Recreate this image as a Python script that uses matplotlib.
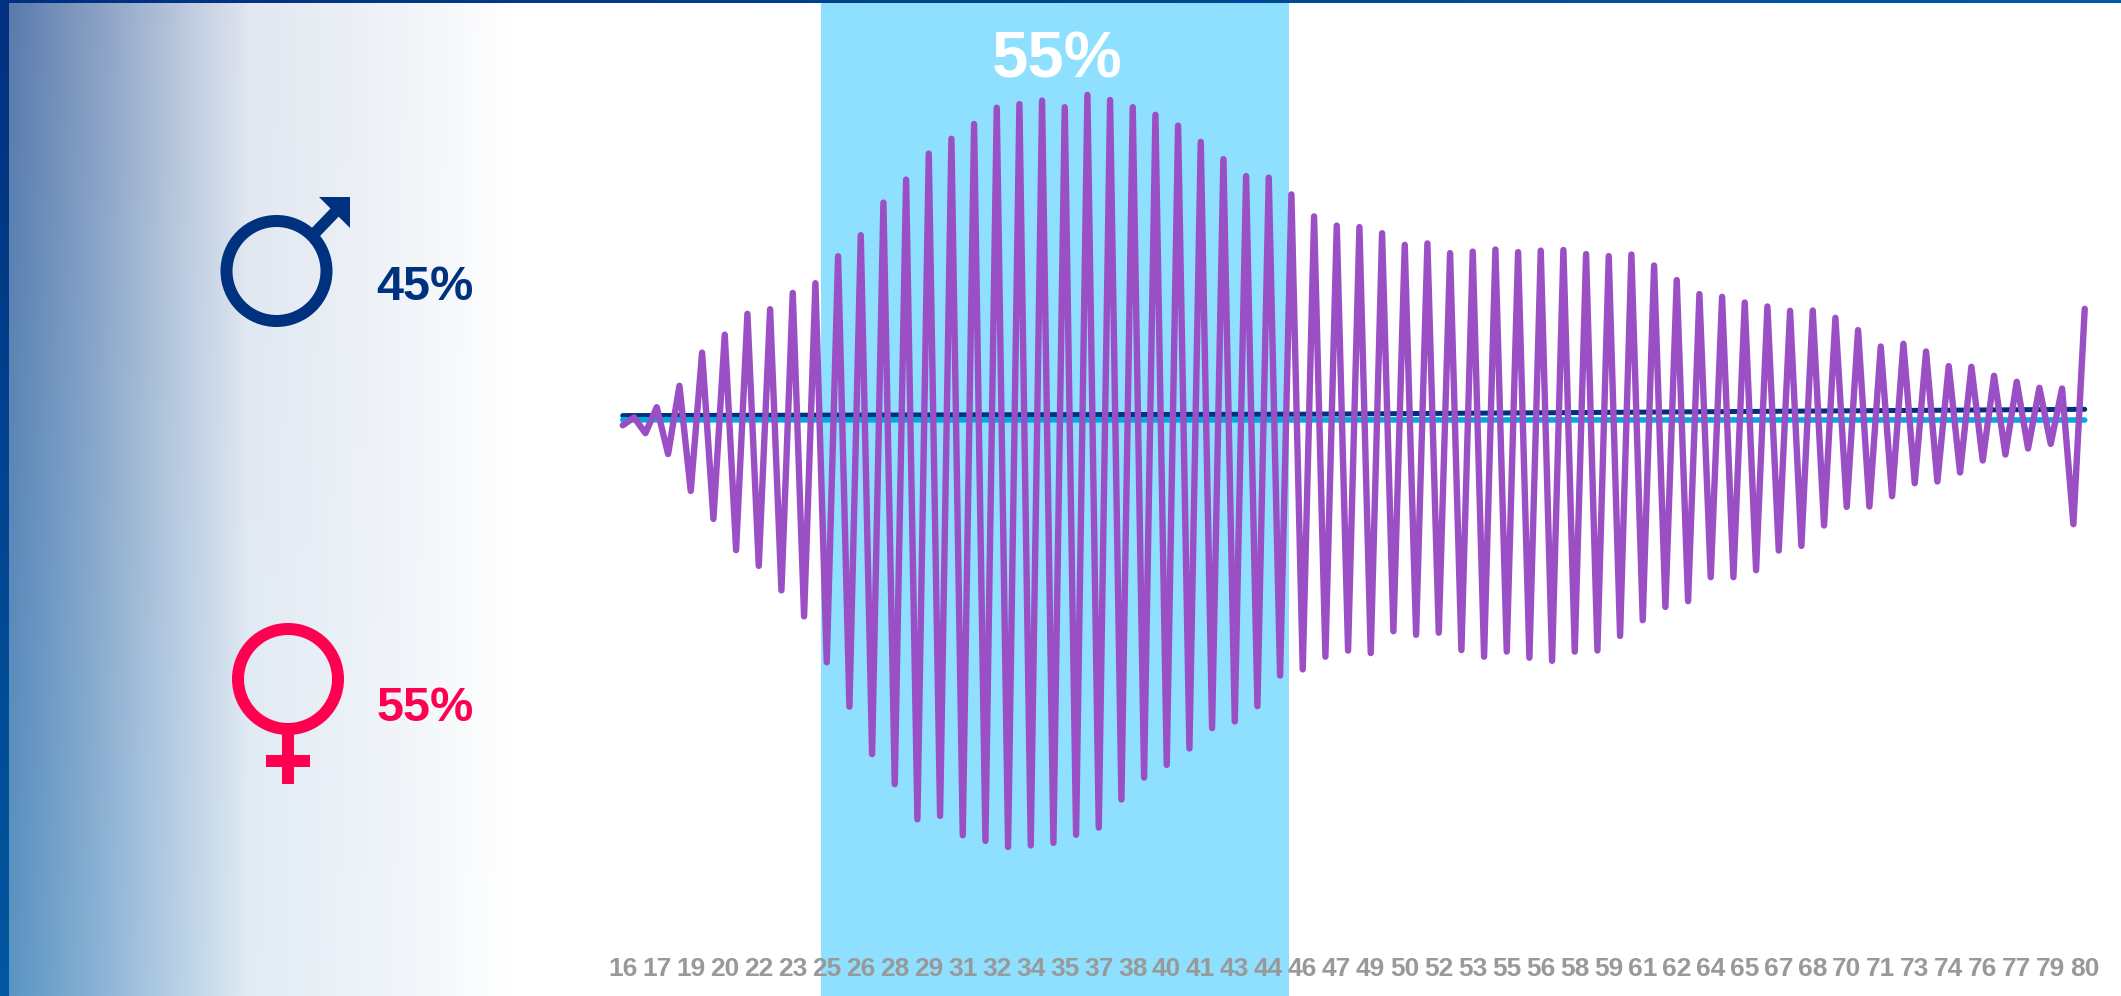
import numpy as np
import matplotlib
matplotlib.use('Agg')
import matplotlib.pyplot as plt
from matplotlib.patches import Circle, Polygon, Rectangle

plt.rcParams['font.family'] = ['Liberation Sans', 'DejaVu Sans']

# tick labels, one every third point
age_labels = ['16', '17', '19', '20', '22', '23', '25', '26', '28', '29', '31',
              '32', '34', '35', '37', '38', '40', '41', '43', '44', '46', '47',
              '49', '50', '52', '53', '55', '56', '58', '59', '61', '62', '64',
              '65', '67', '68', '70', '71', '73', '74', '76', '77', '79', '80']

# zigzag line: it alternates low / high at every point
swing_low = [-5.3, -13.2, -34.1, -70.9, -98.9, -130.1, -145.9, -170.4, -196.4,
             -242.3, -286.7, -334.1, -364.2, -399.4, -395.9, -415.3, -420.9,
             -427.0, -425.5, -422.9, -414.8, -407.6, -379.5, -357.6, -344.9,
             -328.5, -308.1, -301.5, -286.2, -255.6, -249.4, -236.7, -230.6,
             -233.1, -211.2, -214.8, -212.7, -230.1, -236.7, -231.6, -237.7,
             -240.8, -231.6, -230.5, -215.9, -200.2, -186.9, -181.2, -157.2,
             -157.2, -150.2, -130.5, -125.9, -105.5, -86.9, -86.5, -76.2,
             -63.2, -61.5, -52.5, -40.5, -34.5, -28.5, -23.9, -104.2]
swing_high = [2.6, 12.8, 34.2, 67.4, 85.3, 106.2, 110.8, 127.1, 136.8, 163.8,
              184.8, 217.4, 240.4, 266.4, 281.2, 296.0, 312.3, 315.9, 319.4,
              312.8, 325.1, 320.0, 312.8, 305.2, 294.4, 278.1, 260.8, 243.9,
              242.4, 225.6, 203.6, 194.4, 192.9, 186.8, 175.1, 176.6, 166.9,
              168.4, 170.5, 167.9, 169.4, 170.0, 165.9, 163.9, 165.5, 154.5,
              139.9, 125.9, 123.2, 117.5, 113.5, 109.2, 109.5, 102.2, 89.9,
              73.5, 76.2, 68.5, 53.9, 53.2, 44.2, 38.2, 32.2, 31.5, 111.2]

# the two nearly flat lines
male_idx = [0, 41, 60, 85, 129]
male_vals = [4.4, 5.4, 5.8, 7.5, 10.7]
female_idx = [0, 129]
female_vals = [0.2, 0.0]

# highlighted band, in point positions
band_start = 17.5
band_end = 58.8

share_title = '55%'
male_share = '45%'
female_share = '55%'

NAVY = '#00317f'
PINK = '#ff0050'
CYAN = '#00a9e0'
PURPLE = '#9b4fc4'
BAND = '#8fe0ff'
GREY = '#999999'

fig = plt.figure(figsize=(21.21, 9.96), dpi=100, facecolor='white')

# background layer works in plain pixels
bg = fig.add_axes([0, 0, 1, 1])
bg.set_axis_off()

# fade from the left edge to white, opacity sampled across the reference
fade_x = np.arange(0, 2121)
alpha = np.interp(fade_x, [9, 101, 169, 236, 247, 338, 439, 520],
                  [0.65, 0.455, 0.30, 0.153, 0.12, 0.086, 0.04, 0.0])
blue_top = np.array([0, 50, 128]) / 255
blue_bottom = np.array([0, 90, 165]) / 255
mix = np.linspace(0, 1, 996)[:, None, None]
fade = np.zeros((996, 2121, 4))
fade[:, :, :3] = (blue_top * (1 - mix) + blue_bottom * mix)
fade[:, :, 3] = alpha
bg.imshow(fade, extent=(0, 2121, 996, 0), aspect='auto', zorder=1)

# left and top edge bars
left_bar = (np.array([0, 48, 127]) / 255 * (1 - mix) + np.array([0, 88, 160]) / 255 * mix)
bg.imshow(left_bar, extent=(0, 9, 996, 0), aspect='auto', zorder=2)
mix_x = np.linspace(0, 1, 2121)[None, :, None]
top_bar = (np.array([0, 48, 127]) / 255 * (1 - mix_x) + np.array([0, 90, 165]) / 255 * mix_x)
bg.imshow(top_bar, extent=(0, 2121, 3, 0), aspect='auto', zorder=2)
bg.set_xlim(0, 2121)
bg.set_ylim(996, 0)

# male symbol
bg.add_patch(Circle((276.5, 271), 50, fill=False, ec=NAVY, lw=8.64, zorder=3))
bg.plot([313, 338], [235, 209], color=NAVY, lw=8.3, solid_capstyle='butt', zorder=3)
bg.add_patch(Polygon([(319.3, 196.7), (350, 196.7), (350, 228)], fc=NAVY, ec='none', zorder=3))
bg.text(376.5, 299.5, male_share, color=NAVY, fontsize=35, fontweight='bold',
        ha='left', va='baseline', zorder=3)

# female symbol
bg.add_patch(Circle((288, 679), 50, fill=False, ec=PINK, lw=8.64, zorder=3))
bg.add_patch(Rectangle((282, 733), 12, 50.5, fc=PINK, ec='none', zorder=3))
bg.add_patch(Rectangle((266, 755.3), 44, 12, fc=PINK, ec='none', zorder=3))
bg.text(376.5, 720.5, female_share, color=PINK, fontsize=35, fontweight='bold',
        ha='left', va='baseline', zorder=3)

# chart layer: x is the point position, y is the offset from the flat line
ax = fig.add_axes([0, 0, 1, 1])
ax.patch.set_visible(False)
ax.set_xlim(-54.95, 132.2)
ax.set_ylim(-576, 420)
for side in ax.spines.values():
    side.set_visible(False)

ax.axvspan(band_start, band_end, ymin=0, ymax=0.997, color=BAND, lw=0, zorder=1)

zigzag = np.column_stack([swing_low, swing_high]).ravel()
ax.plot(male_idx, male_vals, color=NAVY, lw=3.6, solid_capstyle='round', zorder=3)
ax.plot(female_idx, female_vals, color=CYAN, lw=4.0, solid_capstyle='round', zorder=3)
ax.plot(np.arange(len(zigzag)), zigzag, color=PURPLE, lw=4.6,
        solid_joinstyle='round', solid_capstyle='round', zorder=4)

ax.text((band_start + band_end) / 2 + 0.15, 343, share_title, color='white', fontsize=47,
        fontweight='bold', ha='center', va='baseline', zorder=5)

ax.set_xticks(np.arange(len(age_labels)) * 3, age_labels)
ax.set_yticks([])
ax.tick_params(axis='x', length=0, pad=-28, labelsize=19, labelcolor=GREY, zorder=6)
for lab in ax.get_xticklabels():
    lab.set_fontweight('bold')

fig.savefig('out.png', dpi=100, facecolor='white')
